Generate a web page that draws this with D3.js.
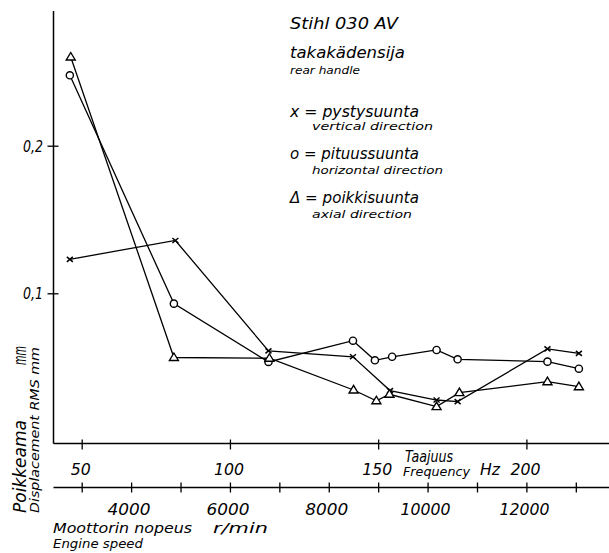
<!DOCTYPE html>
<html><head><meta charset="utf-8">
<script src="https://cdn.jsdelivr.net/npm/d3@7"></script>
<style>
html,body{margin:0;padding:0;background:#fff;}
svg{display:block;}
text{font-family:"DejaVu Sans",sans-serif;font-style:italic;fill:#000;}
</style></head>
<body>
<script>
// ---- data ----
const freqTicks = [50, 100, 150, 200];
const rpmTicks = [3000, 4000, 5000, 6000, 7000, 8000, 9000, 10000, 11000, 12000, 13000];
const rpmLabels = [4000, 6000, 8000, 10000, 12000];
const yTicks = [0.1, 0.2];
const yTickLabels = ["0,1", "0,2"];

// pystysuunta (vertical) – x markers
const vertFreq = [46.0, 81.6, 113.0, 141.5, 154.0, 169.7, 176.8, 207.1, 217.7];
const vertVal  = [0.123, 0.1358, 0.061, 0.057, 0.0341, 0.0277, 0.0266, 0.0623, 0.0593];
// pituussuunta (horizontal) – o markers
const horFreq = [46.0, 81.1, 113.0, 141.5, 148.9, 154.7, 169.7, 176.8, 207.1, 217.7];
const horVal  = [0.2477, 0.093, 0.0535, 0.0679, 0.0546, 0.057, 0.0616, 0.0553, 0.0537, 0.0489];
// poikkisuunta (axial) – triangle markers
const axFreq = [46.3, 81.1, 113.3, 141.7, 149.4, 153.8, 169.7, 177.4, 207.1, 217.7];
const axVal  = [0.2601, 0.0565, 0.056, 0.0345, 0.0272, 0.0316, 0.0232, 0.0327, 0.0401, 0.0367];

// ---- drawing ----
const W = 609, H = 553;
const svg = d3.select("body").append("svg").attr("width", W).attr("height", H);

const x = d3.scaleLinear().domain([50, 200]).range([81.7, 526.4]);
const xr = d3.scaleLinear().domain([3000, 12000]).range([81.7, 526.4]);
const y = d3.scaleLinear().domain([0, 0.2]).range([440.9, 145.7]);

const axisLeftX = 53.5, hzAxisY = 443.5, rpmAxisY = 487.5;

function txt(s, px, py, size, len, anchor) {
  const t = svg.append("text").attr("x", px).attr("y", py)
    .attr("font-size", size).text(s);
  if (anchor) t.attr("text-anchor", anchor);
  if (len) t.attr("textLength", len).attr("lengthAdjust", "spacingAndGlyphs");
  return t;
}

// y axis
const yAx = svg.append("g").attr("transform", `translate(${axisLeftX},0)`)
  .call(d3.axisLeft(y).tickValues(yTicks).tickSize(6).tickFormat(""));
yAx.select(".domain").remove();
yAx.selectAll(".tick line").attr("x1", 5).attr("x2", -6).attr("stroke", "#000").attr("stroke-width", 1.3);
svg.append("line").attr("x1", axisLeftX).attr("x2", axisLeftX)
  .attr("y1", 11).attr("y2", hzAxisY).attr("stroke", "#000").attr("stroke-width", 1.5);
yTicks.forEach((v, i) => txt(yTickLabels[i], 33, y(v) + 6, 16, 20, "middle"));

// Hz axis
const hzAx = svg.append("g").attr("transform", `translate(0,${hzAxisY})`)
  .call(d3.axisBottom(x).tickValues(freqTicks).tickFormat(""));
hzAx.select(".domain").remove();
hzAx.selectAll(".tick line").attr("y1", -4).attr("y2", 6).attr("stroke", "#000").attr("stroke-width", 1.3);
svg.append("line").attr("x1", axisLeftX).attr("x2", W)
  .attr("y1", hzAxisY).attr("y2", hzAxisY).attr("stroke", "#000").attr("stroke-width", 1.4);
freqTicks.forEach(f => txt(String(f), x(f) - 1, 475, 16, f < 100 ? 20 : 30, "middle"));

// rpm axis
const rpmAx = svg.append("g").attr("transform", `translate(0,${rpmAxisY})`)
  .call(d3.axisBottom(xr).tickValues(rpmTicks).tickFormat(""));
rpmAx.select(".domain").remove();
rpmAx.selectAll(".tick line").attr("y1", -5).attr("y2", 5).attr("stroke", "#000").attr("stroke-width", 1.3);
svg.append("line").attr("x1", axisLeftX).attr("x2", W)
  .attr("y1", rpmAxisY).attr("y2", rpmAxisY).attr("stroke", "#000").attr("stroke-width", 1.6);
rpmLabels.forEach(r => txt(String(r), xr(r) - 2, 514.5, 15.5, r < 10000 ? 43 : 50, "middle"));

// axis titles
txt("Taajuus", 405, 462, 15, 48);
txt("Frequency", 403, 476, 12, 67);
txt("Hz", 480, 475, 16, 20);
txt("Moottorin nopeus", 53, 532.5, 14.5, 139);
txt("r/min", 213, 532.5, 14.5, 55);
txt("Engine speed", 53, 547.5, 12, 90);

// rotated y titles
svg.append("text").attr("transform", "translate(26,513) rotate(-90)")
  .attr("font-size", 17).attr("textLength", 93).attr("lengthAdjust", "spacingAndGlyphs").text("Poikkeama");
svg.append("text").attr("transform", "translate(26,365) rotate(-90)")
  .attr("font-size", 17).attr("textLength", 19).attr("lengthAdjust", "spacingAndGlyphs").text("mm");
svg.append("text").attr("transform", "translate(39,513) rotate(-90)")
  .attr("font-size", 13).attr("textLength", 166).attr("lengthAdjust", "spacingAndGlyphs").text("Displacement RMS mm");

// legend text
txt("Stihl 030 AV", 290, 29, 15, 108);
txt("takakädensija", 290, 58, 15, 115);
txt("rear handle", 290, 74, 11, 70);
txt("x = pystysuunta", 290, 117, 15, 129);
txt("vertical direction", 312, 130, 11, 121);
txt("o = pituussuunta", 290, 159, 15, 129);
txt("horizontal direction", 312, 174, 11, 131);
txt("\u0394 = poikkisuunta", 290, 203, 15, 129);
txt("axial direction", 312, 218, 11, 100);

// series
const line = d3.line().x(d => x(d[0])).y(d => y(d[1]));
const series = [
  {f: vertFreq, v: vertVal, m: "x"},
  {f: horFreq, v: horVal, m: "o"},
  {f: axFreq, v: axVal, m: "t"}
];
series.forEach(s => {
  const pts = s.f.map((f, i) => [f, s.v[i]]);
  svg.append("path").datum(pts).attr("d", line)
    .attr("fill", "none").attr("stroke", "#000").attr("stroke-width", 1.3);
  const g = svg.append("g");
  pts.forEach(p => {
    const cx = x(p[0]), cy = y(p[1]);
    if (s.m === "x") {
      g.append("path").attr("d", `M${cx-3},${cy-2.5}L${cx+3},${cy+2.5}M${cx-3},${cy+2.5}L${cx+3},${cy-2.5}`)
        .attr("stroke", "#000").attr("stroke-width", 1.5);
    } else if (s.m === "o") {
      g.append("circle").attr("cx", cx).attr("cy", cy).attr("r", 3.6)
        .attr("fill", "#fff").attr("stroke", "#000").attr("stroke-width", 1.4);
    } else {
      g.append("path").attr("d", `M${cx},${cy-4.5}L${cx+4.5},${cy+3}L${cx-4.5},${cy+3}Z`)
        .attr("fill", "#fff").attr("stroke", "#000").attr("stroke-width", 1.4);
    }
  });
});
</script>
</body></html>
